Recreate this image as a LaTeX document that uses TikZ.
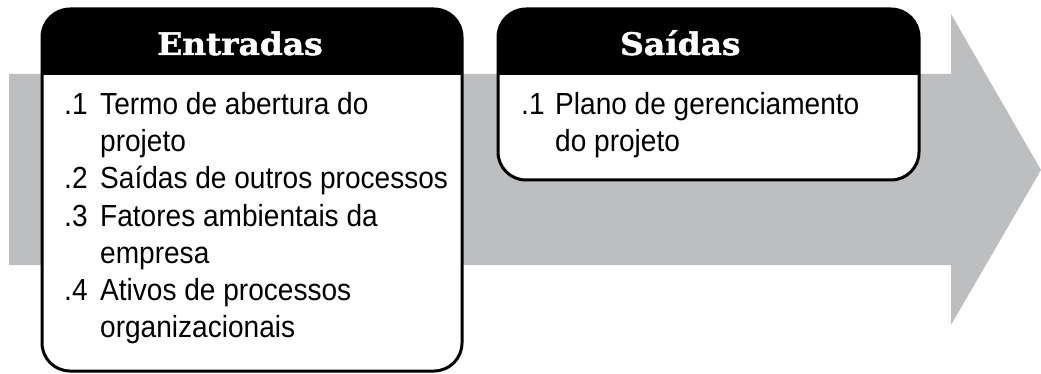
\documentclass[tikz,border=0pt]{standalone}
\usepackage{fontspec}
\setmainfont{Liberation Sans}[FakeStretch=0.92]
\newfontfamily\headfont{DejaVu Serif Bold}[FakeBold=1.6,FakeStretch=1.06]
\definecolor{arrowgray}{RGB}{189,190,192}
\begin{document}
\begin{tikzpicture}[x=1pt,y=-1pt,
  boxframe/.style={draw=black,line width=3pt,rounded corners=28pt},
  headtext/.style={anchor=base west,inner sep=0pt,text=white,font=\headfont\fontsize{31}{31}\selectfont},
  itemnum/.style={anchor=base west,inner sep=0pt,font=\fontsize{30.5}{37}\selectfont},
  itemtext/.style={anchor=base west,inner sep=0pt,font=\fontsize{30.5}{37}\selectfont,align=left}]
\useasboundingbox (0,0) rectangle (1041,374);
% arrow
\fill[arrowgray] (9,74) -- (951,74) -- (951,14) -- (1041,170) -- (951,325) -- (951,265) -- (9,265) -- cycle;
% Entradas box
\fill[white,rounded corners=28pt] (42,9) rectangle (462,371);
\begin{scope}
\clip[rounded corners=28pt] (42,9) rectangle (462,371);
\fill[black] (42,9) rectangle (462,75);
\end{scope}
\draw[boxframe] (42,9) rectangle (462,371);
% Saidas box
\fill[white,rounded corners=28pt] (498,9) rectangle (919,180);
\begin{scope}
\clip[rounded corners=28pt] (498,9) rectangle (919,180);
\fill[black] (498,9) rectangle (919,75);
\end{scope}
\draw[boxframe] (498,9) rectangle (919,180);
% headers
\node[headtext] (hin) at (157,55) {Entradas};
\node[headtext] (hout) at (620,55) {Saídas};
% Entradas items
\node[itemnum] (n1) at (64,115) {.1};
\node[itemtext] (t1) at (100,115) {Termo de abertura do};
\node[itemtext] (t1b) at (100,152) {projeto};
\node[itemnum] (n2) at (64,189) {.2};
\node[itemtext] (t2) at (100,189) {Saídas de outros processos};
\node[itemnum] (n3) at (64,226) {.3};
\node[itemtext] (t3) at (100,226) {Fatores ambientais da};
\node[itemtext] (t3b) at (100,263) {empresa};
\node[itemnum] (n4) at (64,300) {.4};
\node[itemtext] (t4) at (100,300) {Ativos de processos};
\node[itemtext] (t4b) at (100,337) {organizacionais};
% Saidas items
\node[itemnum] (o1) at (521,115) {.1};
\node[itemtext] (u1) at (555,115) {Plano de gerenciamento};
\node[itemtext] (u1b) at (555,152) {do projeto};
\end{tikzpicture}
\end{document}
